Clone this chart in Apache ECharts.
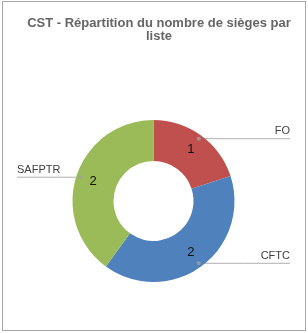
<!DOCTYPE html>
<html>
<head>
<meta charset="utf-8">
<script src="https://cdn.jsdelivr.net/npm/echarts@6/dist/echarts.min.js"></script>
<style>
  html, body { margin: 0; padding: 0; background: #fff; }
  #chart { position: absolute; left: 0; top: 0; width: 308px; height: 333px; }
  #frame { position: absolute; left: 2px; top: 1px; width: 302px; height: 328px; border: 1px solid #a6a6a6; pointer-events: none; }
</style>
</head>
<body>
<div id="chart"></div>
<div id="frame"></div>
<script>
// listes et nombre de sièges
const listes = ['FO', 'CFTC', 'SAFPTR']
const sieges = [1, 2, 2]
const couleurs = ['#C0504D', '#4F81BD', '#9BBB59']

const total = sieges.reduce((a, b) => a + b, 0)
const pieData = listes.map((name, i) => ({ name: name, value: sieges[i], itemStyle: { color: couleurs[i] } }))

// milieu de chaque part, pour les petits points d'attache
let cumul = 0
const points = sieges.map(v => {
  const mid = cumul + v / 2
  cumul += v
  return [0.95, mid]
})

const chart = echarts.init(document.getElementById('chart'))
const W = 308

const option = {
  animation: false,
  title: {
    text: 'CST - Répartition du nombre de sièges par\nliste',
    left: 154,
    top: 12,
    textAlign: 'center',
    textStyle: {
      fontFamily: 'Liberation Sans',
      fontSize: 13,
      fontWeight: 'bold',
      color: '#666666',
      lineHeight: 13
    }
  },
  polar: { center: [153.5, 201], radius: 81 },
  angleAxis: { type: 'value', min: 0, max: total, startAngle: 90, show: false },
  radiusAxis: { type: 'value', min: 0, max: 1, show: false },
  series: [
    {
      type: 'pie',
      center: [153.5, 201],
      radius: [40, 81],
      startAngle: 90,
      silent: true,
      data: pieData,
      label: {
        position: 'inside',
        formatter: '{c}',
        fontFamily: 'Liberation Sans',
        fontSize: 13,
        color: '#111'
      },
      labelLine: { show: false }
    },
    {
      type: 'pie',
      center: [153.5, 201],
      radius: [40, 77],
      startAngle: 90,
      silent: true,
      data: pieData.map(d => ({ name: d.name, value: d.value })),
      itemStyle: { color: 'rgba(0,0,0,0)' },
      label: {
        formatter: '{b}',
        fontFamily: 'Liberation Sans',
        fontSize: 11,
        color: '#404040'
      },
      labelLine: { show: true, length: 5, length2: 5, lineStyle: { color: '#b0b0b0', width: 1 } },
      labelLayout: function (params) {
        const p0 = params.labelLinePoints[0]
        const right = p0[0] > 153.5
        const endX = right ? W - 18 : 17
        return {
          x: endX,
          y: p0[1] - 2,
          align: right ? 'right' : 'left',
          verticalAlign: 'bottom',
          labelLinePoints: [p0, [(p0[0] + endX) / 2, p0[1]], [endX, p0[1]]]
        }
      }
    },
    {
      type: 'scatter',
      coordinateSystem: 'polar',
      silent: true,
      symbolSize: 4,
      itemStyle: { color: '#a0a0a0' },
      data: points,
      z: 5
    }
  ]
}

chart.setOption(option)
</script>
</body>
</html>
